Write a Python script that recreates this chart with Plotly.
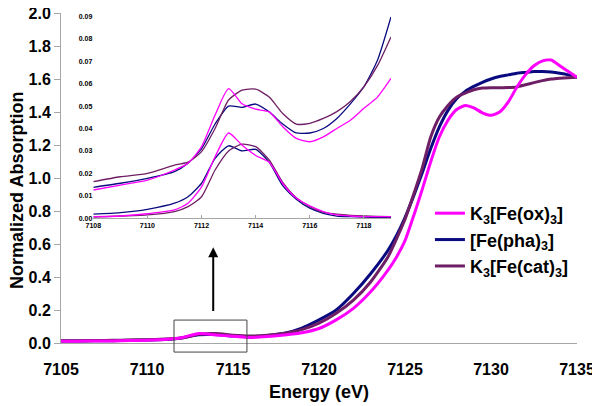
import plotly.graph_objects as go

# ---------------- data ----------------
energy_main = [7105, 7106, 7107, 7108, 7109, 7110, 7111, 7112, 7113, 7114, 7115, 7116, 7117,
               7118, 7119, 7120, 7121, 7122, 7123, 7124,
               7124.5, 7125, 7125.5, 7126, 7126.5, 7127, 7127.5, 7128, 7128.5, 7129, 7129.5,
               7130, 7130.5, 7131, 7131.5, 7132, 7132.5, 7133, 7133.5, 7134, 7134.5, 7135]

ox_main = [0.010, 0.011, 0.012, 0.0126, 0.0148, 0.017, 0.0215, 0.032, 0.058, 0.0486, 0.041, 0.034, 0.040,
           0.049, 0.062, 0.088, 0.14, 0.21, 0.31, 0.44,
           0.52, 0.62, 0.77, 0.93, 1.10, 1.25, 1.35, 1.415, 1.44, 1.425, 1.395,
           1.38, 1.40, 1.46, 1.55, 1.625, 1.68, 1.71, 1.715, 1.68, 1.645, 1.61]

pha_main = [0.012, 0.012, 0.013, 0.014, 0.016, 0.018, 0.021, 0.031, 0.050, 0.051, 0.042, 0.038, 0.045,
            0.059, 0.090, 0.14, 0.20, 0.30, 0.42, 0.56,
            0.65, 0.76, 0.89, 1.03, 1.18, 1.31, 1.41, 1.48, 1.525, 1.555, 1.58,
            1.60, 1.615, 1.625, 1.635, 1.64, 1.645, 1.645, 1.642, 1.635, 1.625, 1.61]

cat_main = [0.013, 0.014, 0.015, 0.016, 0.0185, 0.020, 0.024, 0.030, 0.053, 0.057, 0.047, 0.042, 0.0475,
            0.059, 0.081, 0.12, 0.18, 0.26, 0.37, 0.52,
            0.63, 0.75, 0.90, 1.06, 1.25, 1.37, 1.44, 1.49, 1.515, 1.535, 1.545,
            1.547, 1.547, 1.548, 1.552, 1.565, 1.578, 1.59, 1.60, 1.605, 1.608, 1.61]

energy_inset = [7108, 7109, 7110, 7111, 7111.5, 7112, 7112.5, 7113, 7113.5, 7114, 7114.5, 7115,
                7115.5, 7116, 7116.5, 7117, 7117.5, 7118, 7118.5, 7119]

ox_raw = [0.0126, 0.0148, 0.017, 0.0215, 0.0245, 0.0319, 0.046, 0.0578, 0.051, 0.0486, 0.0474, 0.0408,
          0.0356, 0.0341, 0.0363, 0.040, 0.0437, 0.049, 0.054, 0.0623]
pha_raw = [0.0138, 0.0156, 0.0178, 0.0208, 0.0245, 0.031, 0.042, 0.050, 0.0494, 0.0509, 0.0474, 0.042,
           0.038, 0.038, 0.040, 0.0445, 0.051, 0.0586, 0.0704, 0.0897]
cat_raw = [0.0163, 0.0185, 0.020, 0.0237, 0.025, 0.0297, 0.040, 0.0527, 0.0571, 0.0575, 0.054, 0.0467,
           0.042, 0.0423, 0.0445, 0.0475, 0.052, 0.0586, 0.068, 0.0808]

ox_peak = [0.0007, 0.001, 0.002, 0.0037, 0.0067, 0.014, 0.0274, 0.038, 0.0325, 0.028, 0.025, 0.0155,
           0.009, 0.0055, 0.003, 0.0015, 0.001, 0.0007, 0.0007, 0.0007]
pha_peak = [0.0018, 0.0025, 0.004, 0.0067, 0.0096, 0.0156, 0.0267, 0.0323, 0.030, 0.0307, 0.025, 0.0145,
            0.0085, 0.0045, 0.0022, 0.001, 0.0007, 0.0005, 0.0004, 0.0003]
cat_peak = [0.0005, 0.001, 0.0015, 0.003, 0.0052, 0.0096, 0.0215, 0.030, 0.033, 0.0319, 0.026, 0.016,
            0.0092, 0.0052, 0.0027, 0.0018, 0.0013, 0.001, 0.0008, 0.0007]

names = ["K<sub>3</sub>[Fe(ox)<sub>3</sub>]", "[Fe(pha)<sub>3</sub>]", "K<sub>3</sub>[Fe(cat)<sub>3</sub>]"]
colors = ["#FF00FF", "#0A0A80", "#6E1E64"]

main_xticks = [7105, 7110, 7115, 7120, 7125, 7130, 7135]
main_yticks = [0.0, 0.2, 0.4, 0.6, 0.8, 1.0, 1.2, 1.4, 1.6, 1.8, 2.0]
inset_xticks = [7108, 7110, 7112, 7114, 7116, 7118]
inset_yticks = [0.00, 0.01, 0.02, 0.03, 0.04, 0.05, 0.06, 0.07, 0.08, 0.09]

# zoom box / arrow (data units)
X_RANGE = [7105, 7135]
Y_RANGE = [0, 2.0]
box_x = [7111.57, 7115.81]
box_y = [-0.055, 0.139]
arrow_x = 7113.85
arrow_y = [0.185, 0.58]

FONT = "Liberation Sans, Arial, sans-serif"

fig = go.Figure()

order = [1, 2, 0]  # draw pha, cat, then ox on top
series_main = [ox_main, pha_main, cat_main]
series_raw = [ox_raw, pha_raw, cat_raw]
series_peak = [ox_peak, pha_peak, cat_peak]

for i in order:
    fig.add_trace(go.Scatter(x=energy_main, y=series_main[i], mode="lines",
                             line=dict(color=colors[i], width=3, shape="spline", smoothing=0.6),
                             name="<b>" + names[i] + "</b>", legendrank=i + 1,
                             xaxis="x", yaxis="y"))
for i in order:
    for ys in (series_raw[i], series_peak[i]):
        fig.add_trace(go.Scatter(x=energy_inset, y=ys, mode="lines",
                                 line=dict(color=colors[i], width=1.3, shape="spline", smoothing=0.6),
                                 showlegend=False, xaxis="x2", yaxis="y2"))

def px(x):
    return (x - X_RANGE[0]) / (X_RANGE[1] - X_RANGE[0])

def py(y):
    return (y - Y_RANGE[0]) / (Y_RANGE[1] - Y_RANGE[0])

fig.add_shape(type="rect", xref="paper", yref="paper",
              x0=px(box_x[0]), x1=px(box_x[1]), y0=py(box_y[0]), y1=py(box_y[1]),
              line=dict(color="#444444", width=1), fillcolor="rgba(0,0,0,0)")

fig.add_annotation(x=arrow_x, y=arrow_y[1], ax=arrow_x, ay=arrow_y[0], xref="x", yref="y",
                   axref="x", ayref="y", text="", showarrow=True, arrowhead=2, arrowsize=1,
                   arrowwidth=2, arrowcolor="black")

fig.add_annotation(text="Energy (eV)", xref="paper", yref="paper", x=0.5, y=-0.147,
                   xanchor="center", yanchor="middle", showarrow=False,
                   font=dict(family=FONT, size=18, color="black", weight="bold"))
fig.add_annotation(text="Normalized Absorption", xref="paper", yref="paper", x=-0.0853, y=0.4637,
                   xanchor="center", yanchor="middle", showarrow=False, textangle=-90,
                   font=dict(family=FONT, size=18, color="black", weight="bold"))

axis_line = "#A6A6A6"
bold16 = dict(family=FONT, size=16, color="black", weight="bold")
bold7 = dict(family=FONT, size=7, color="black", weight="bold")
fig.update_layout(
    width=600, height=406,
    margin=dict(l=53, r=31, t=5, b=71),
    paper_bgcolor="white", plot_bgcolor="rgba(0,0,0,0)",
    font=dict(family=FONT, color="black"),
    showlegend=True,
    legend=dict(x=0.715, y=0.4486, xanchor="left", yanchor="top",
                bgcolor="rgba(0,0,0,0)", font=dict(family=FONT, size=18, color="black"),
                itemwidth=30),
    # labelled x axis: invisible long ticks push the labels down
    xaxis=dict(range=X_RANGE, tickvals=main_xticks, showline=True, linecolor=axis_line,
               linewidth=1, ticks="outside", ticklen=12, tickcolor="rgba(0,0,0,0)", showgrid=False,
               zeroline=False, tickfont=bold16, automargin=False, ticklabeloverflow="allow"),
    # visible short tick marks
    xaxis3=dict(range=X_RANGE, tickvals=main_xticks, overlaying="x", anchor="y", side="bottom",
                showline=False, ticks="outside", ticklen=6, tickcolor=axis_line,
                showticklabels=False, showgrid=False, zeroline=False, automargin=False),
    yaxis=dict(range=Y_RANGE, tickvals=main_yticks, tickformat=".1f", showline=True,
               linecolor=axis_line, linewidth=1, ticks="outside", ticklen=6, tickcolor=axis_line,
               showgrid=False, zeroline=False, tickfont=bold16, automargin=False,
               ticklabeloverflow="allow"),
    xaxis2=dict(domain=[0.0626, 0.6395], anchor="y2", range=[7108, 7119], tickvals=inset_xticks,
                showline=True, linecolor=axis_line, linewidth=1, ticks="inside", ticklen=3,
                tickcolor=axis_line, showgrid=False, zeroline=False, tickfont=bold7,
                automargin=False),
    yaxis2=dict(domain=[0.378, 0.990], anchor="x2", range=[0, 0.09], tickvals=inset_yticks,
                tickformat=".2f", showline=False, ticks="", showgrid=False, zeroline=False,
                tickfont=bold7, automargin=False),
)

fig.write_html("out.html")
